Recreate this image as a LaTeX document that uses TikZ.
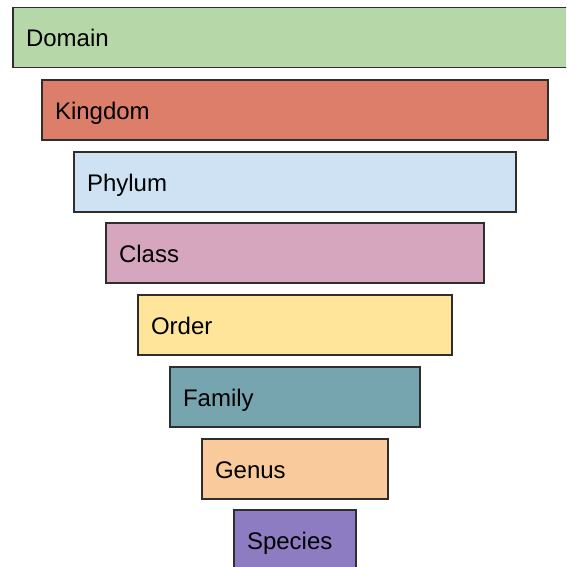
\documentclass[tikz,border=0pt]{standalone}
\usepackage{fontspec}
\setmainfont{Liberation Sans}
\definecolor{cDomain}{HTML}{B6D7A8}
\definecolor{cKingdom}{HTML}{DD7E6B}
\definecolor{cPhylum}{HTML}{CFE2F3}
\definecolor{cClass}{HTML}{D5A6BD}
\definecolor{cOrder}{HTML}{FFE599}
\definecolor{cFamily}{HTML}{76A5AF}
\definecolor{cGenus}{HTML}{F9CB9C}
\definecolor{cSpecies}{HTML}{8E7CC3}
\definecolor{edge}{HTML}{2E2E2E}
\begin{document}
\begin{tikzpicture}[x=1pt,y=-1pt,
  rank/.style={draw=edge, line width=1.2pt, rectangle, anchor=north west,
    outer sep=0pt, inner xsep=13pt, inner ysep=0pt, minimum height=60pt,
    align=left, text height=19pt, text depth=0pt,
    font=\fontsize{24}{28}\selectfont, text=black}]
\useasboundingbox (0,0) rectangle (566,567);
\clip (0,0) rectangle (566,567);
\node[rank, fill=cDomain,  text width=574pt] (domain)  at (13,7.5)  {Domain};
\node[rank, fill=cKingdom, text width=480pt] (kingdom) at (42,80)   {Kingdom};
\node[rank, fill=cPhylum,  text width=416pt] (phylum)  at (74,152)  {Phylum};
\node[rank, fill=cClass,   text width=352pt] (class)   at (106,223) {Class};
\node[rank, fill=cOrder,   text width=288pt] (order)   at (138,295) {Order};
\node[rank, fill=cFamily,  text width=224pt] (family)  at (170,367) {Family};
\node[rank, fill=cGenus,   text width=160pt] (genus)   at (202,439) {Genus};
\node[rank, fill=cSpecies, text width=96pt]  (species) at (234,510) {Species};
\end{tikzpicture}
\end{document}
